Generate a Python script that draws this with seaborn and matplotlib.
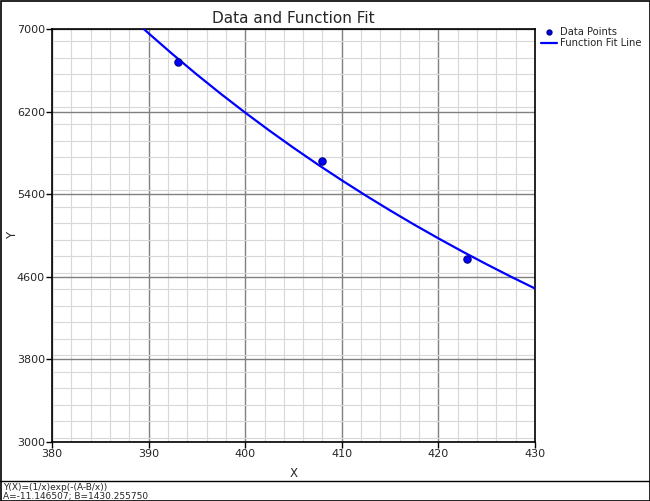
import matplotlib
matplotlib.use("Agg")
import matplotlib.pyplot as plt
import seaborn as sns
import pandas as pd
from matplotlib.ticker import FixedLocator, MultipleLocator
from matplotlib.lines import Line2D
from matplotlib.patches import Rectangle

# Data
point_x = [393, 408, 423]
point_y = [6685, 5725, 4772]

fit_x = [389, 390, 392.5, 395, 397.5, 400, 402.5, 405, 407.5, 410,
         412.5, 415, 417.5, 420, 422.5, 425, 427.5, 430]
fit_y = [7042, 6958.2, 6754.3, 6558.5, 6370.4, 6189.9, 6016.3, 5849.5, 5688.9, 5534.6,
         5385.9, 5242.9, 5104.9, 4972.2, 4844.1, 4720.8, 4601.5, 4486.8]

x_ticks = [380, 390, 400, 410, 420, 430]
y_ticks = [3000, 3800, 4600, 5400, 6200, 7000]

title = "Data and Function Fit"
footer_lines = ["Y(X)=(1/x)exp(-(A-B/x))", "A=-11.146507; B=1430.255750"]

sns.set_style("white")
plt.rcParams['font.family'] = ['DejaVu Sans']

fig = plt.figure(figsize=(6.5, 5.01), dpi=100)
ax = fig.add_axes([52/650, 1 - 442/501, (535-52)/650, (442-29)/501])

pts = pd.DataFrame({"x": point_x, "y": point_y})
fit = pd.DataFrame({"x": fit_x, "y": fit_y})

sns.lineplot(data=fit, x="x", y="y", ax=ax, color="#0000ff", linewidth=1.6,
             sort=True, estimator=None, zorder=3)
sns.scatterplot(data=pts, x="x", y="y", ax=ax, color="#0000ff", s=28,
                edgecolor="#000080", linewidth=0.8, zorder=4)

ax.set_xlim(380, 430)
ax.set_ylim(3000, 7000)
ax.xaxis.set_major_locator(FixedLocator(x_ticks))
ax.yaxis.set_major_locator(FixedLocator(y_ticks))
ax.xaxis.set_minor_locator(MultipleLocator(2))
ax.yaxis.set_minor_locator(MultipleLocator(160))
ax.grid(True, which="major", color="#808080", linewidth=1.0, zorder=1)
ax.grid(True, which="minor", color="#d8d8d8", linewidth=0.8, zorder=0)
ax.set_axisbelow(True)
ax.tick_params(which="major", direction="out", length=4, width=1, color="black",
               labelsize=8, pad=1, left=True, bottom=True)
ax.tick_params(which="minor", length=0)
for s in ax.spines.values():
    s.set_color("black")
    s.set_linewidth(1.2)

ax.set_xlabel("X", fontsize=8.5, labelpad=6)
ax.set_ylabel("Y", fontsize=8.5)
ax.yaxis.set_label_coords(-0.068, 0.5)
ax.set_title(title, fontsize=11, pad=4)

handles = [Line2D([0], [0], marker="o", color="none", markerfacecolor="#0000ff",
                  markeredgecolor="#000080", markersize=3.5),
           Line2D([0], [0], color="#0000ff", linewidth=1.6)]
fig.legend(handles, ["Data Points", "Function Fit Line"], loc="upper left",
           bbox_to_anchor=(541/650, 1 - 27/501), frameon=False, fontsize=7.2,
           handlelength=1.6, handletextpad=0.3, labelspacing=0.1, borderaxespad=0,
           borderpad=0)

# Figure frame and footer
fig.add_artist(Rectangle((0.5/650, 0.5/501), 649/650, 500/501, transform=fig.transFigure,
                         fill=False, edgecolor="black", linewidth=1.2))
fig.add_artist(Line2D([0, 1], [1 - 481/501, 1 - 481/501], transform=fig.transFigure,
                      color="black", linewidth=1.0))
fig.text(3/650, 1 - 487/501, footer_lines[0], fontsize=6.5, va="center", ha="left")
fig.text(3/650, 1 - 496/501, footer_lines[1], fontsize=6.5, va="center", ha="left")

fig.savefig("out.png", dpi=100)
